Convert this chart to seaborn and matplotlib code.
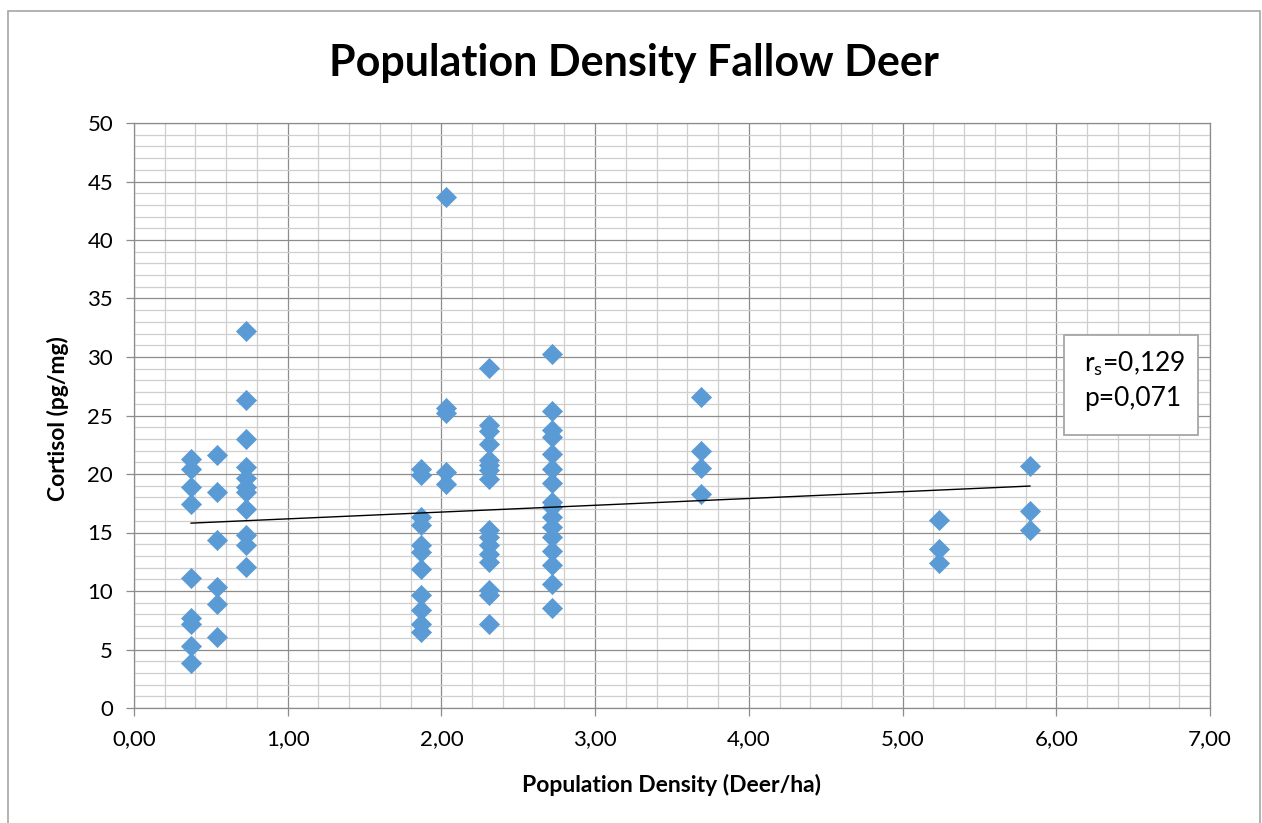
import numpy as np
import pandas as pd
import matplotlib
matplotlib.use("Agg")
import matplotlib.pyplot as plt
from matplotlib.patches import Rectangle
from matplotlib.ticker import MultipleLocator, FuncFormatter
import seaborn as sns

# ---- data ----
site_density = [0.37, 0.54, 0.73, 1.87, 2.03, 2.31, 2.72, 3.69, 5.24, 5.83]
cortisol_037 = [21.3, 20.45, 18.9, 17.4, 11.07, 7.65, 7.17, 5.29, 3.87]
cortisol_054 = [21.6, 18.5, 14.4, 10.3, 8.87, 6.08]
cortisol_073 = [32.2, 26.3, 23.0, 20.6, 19.7, 18.9, 18.45, 17.0, 14.76, 13.9, 12.06]
cortisol_187 = [20.45, 19.9, 16.3, 15.6, 13.9, 13.34, 11.85, 9.64, 8.36, 7.22, 6.5]
cortisol_203 = [43.7, 25.66, 25.23, 20.16, 19.17]
cortisol_231 = [29.07, 24.15, 23.7, 22.6, 21.2, 20.8, 20.3, 19.6, 15.2, 14.6, 13.9,
                13.2, 12.5, 10.07, 9.64, 7.22]
cortisol_272 = [30.26, 25.37, 23.72, 23.15, 21.67, 20.45, 19.22, 17.6, 17.17, 16.3,
                15.5, 14.6, 13.4, 12.2, 10.6, 8.56]
cortisol_369 = [26.6, 22.0, 20.5, 18.3]
cortisol_524 = [16.1, 13.6, 12.4]
cortisol_583 = [20.65, 16.8, 15.2]

cortisol_groups = [cortisol_037, cortisol_054, cortisol_073, cortisol_187, cortisol_203,
                   cortisol_231, cortisol_272, cortisol_369, cortisol_524, cortisol_583]

# linear trend line as shown in the reference (start / end values)
trend_density = [0.37, 5.83]
trend_cortisol = [15.8, 18.97]

title = "Population Density Fallow Deer"
xlabel = "Population Density (Deer/ha)"
ylabel = "Cortisol (pg/mg)"
stat_lines = [r"r$_\mathregular{s}$=0,129", "p=0,071"]

rows = []
for d, ys in zip(site_density, cortisol_groups):
    for y in ys:
        rows.append((d, y))
df = pd.DataFrame(rows, columns=["density", "cortisol"])
trend_df = pd.DataFrame({"density": trend_density, "cortisol": trend_cortisol})

# ---- style ----
sns.set_style("white")
plt.rcParams["font.family"] = ["Lato", "DejaVu Sans"]
plt.rcParams["mathtext.fontset"] = "custom"
plt.rcParams["mathtext.rm"] = "Lato"
plt.rcParams["text.color"] = "black"
plt.rcParams["xtick.color"] = "black"
plt.rcParams["ytick.color"] = "black"

W, H = 1262, 823
fig = plt.figure(figsize=(W / 100, H / 100), dpi=100)
ax = fig.add_axes([134 / W, 1 - 708 / H, (1210 - 134) / W, (708 - 123) / H])

blue = "#5B9BD5"
major_c = "#8c8c8c"
minor_c = "#cfcfcf"

ax.set_xlim(0, 7)
ax.set_ylim(0, 50)
ax.xaxis.set_major_locator(MultipleLocator(1))
ax.xaxis.set_minor_locator(MultipleLocator(0.2))
ax.yaxis.set_major_locator(MultipleLocator(5))
ax.yaxis.set_minor_locator(MultipleLocator(1))
ax.xaxis.set_major_formatter(FuncFormatter(lambda v, p: f"{v:.2f}".replace(".", ",")))
ax.yaxis.set_major_formatter(FuncFormatter(lambda v, p: f"{int(round(v))}"))

ax.grid(which="minor", color=minor_c, lw=0.9, zorder=0)
ax.grid(which="major", color=major_c, lw=0.9, zorder=0)
ax.set_axisbelow(True)
for s in ax.spines.values():
    s.set_color(major_c)
    s.set_linewidth(0.9)

ax.tick_params(which="major", direction="out", length=6, width=0.9, color=major_c,
               labelcolor="black", labelsize=16, pad=9, bottom=True, left=True)
ax.tick_params(which="minor", length=0)

sns.scatterplot(data=df, x="density", y="cortisol", ax=ax, marker="D", s=105,
                color=blue, edgecolor=blue, linewidth=0.5, zorder=3, legend=False)
sns.lineplot(data=trend_df, x="density", y="cortisol", ax=ax, color="black",
             lw=1.0, zorder=4, legend=False)

ax.set_xlabel("")
ax.set_ylabel("")

fig.text(672 / W, 1 - 785 / H, xlabel, ha="center", va="center",
         fontsize=16.5, fontweight="bold", color="black")
fig.text(58 / W, 1 - 419 / H, ylabel, ha="center", va="center", rotation=90,
         fontsize=16.5, fontweight="bold", color="black")
fig.text(634 / W, 1 - 63 / H, title, ha="center", va="center",
         fontsize=31, fontweight="bold", color="black")

# statistics box
fig.patches.append(Rectangle((1064 / W, 1 - 435 / H), 134 / W, 100 / H,
                             transform=fig.transFigure, facecolor="white",
                             edgecolor="#a6a6a6", lw=1.3, zorder=5))
fig.text(1084 / W, 1 - 364 / H, stat_lines[0], ha="left", va="center",
         fontsize=19, zorder=6, color="black")
fig.text(1084 / W, 1 - 399 / H, stat_lines[1], ha="left", va="center",
         fontsize=19, zorder=6, color="black")

# outer chart frame
fig.patches.append(Rectangle((8 / W, -0.02), (1260 - 8) / W, 1.02 - 11 / H,
                             transform=fig.transFigure, facecolor="none",
                             edgecolor="#a6a6a6", lw=1.2))

fig.savefig("out.png", dpi=100)
